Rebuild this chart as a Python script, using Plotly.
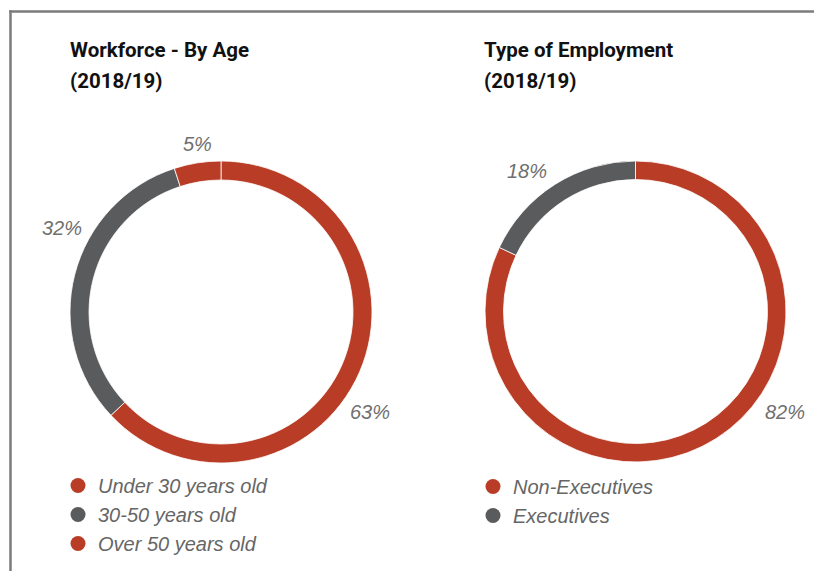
import plotly.graph_objects as go

# ---- data ----
age_labels = ["Under 30 years old", "30-50 years old", "Over 50 years old"]
age_values = [63, 32, 5]
age_colors = ["#b93d26", "#5a5b5d", "#b93d26"]

emp_labels = ["Non-Executives", "Executives"]
emp_values = [82, 18]
emp_colors = ["#b93d26", "#5a5b5d"]

titles = [("Workforce - By Age", "(2018/19)"), ("Type of Employment", "(2018/19)")]

W, H = 814, 571


def px(x, y):
    return x / W, 1 - y / H


fig = go.Figure()

# donuts
fig.add_trace(go.Pie(
    labels=age_labels, values=age_values, hole=0.874, sort=False,
    direction="clockwise", rotation=0, textinfo="none", hoverinfo="label+percent",
    marker=dict(colors=age_colors, line=dict(color="white", width=0.8)),
    domain=dict(x=[70 / W, 372 / W], y=[1 - 463 / H, 1 - 161 / H]),
    showlegend=False,
))
fig.add_trace(go.Pie(
    labels=emp_labels, values=emp_values, hole=0.877, sort=False,
    direction="clockwise", rotation=0, textinfo="none", hoverinfo="label+percent",
    marker=dict(colors=emp_colors, line=dict(color="white", width=0.8)),
    domain=dict(x=[485 / W, 786 / W], y=[1 - 462 / H, 1 - 161 / H]),
    showlegend=False,
))

# legend entries (circle markers)
for lab, col in zip(age_labels, age_colors):
    fig.add_trace(go.Scatter(x=[None], y=[None], mode="markers", name=lab,
                             marker=dict(size=15, color=col), legend="legend"))
for lab, col in zip(emp_labels, emp_colors):
    fig.add_trace(go.Scatter(x=[None], y=[None], mode="markers", name=lab,
                             marker=dict(size=15, color=col), legend="legend2"))

label_font = dict(family="Liberation Sans, Arial, sans-serif", size=20,
                  color="#707070", style="italic")
title_font = dict(family="Roboto, Liberation Sans, sans-serif",
                  size=20.5, color="#111111", weight="bold")

annotations = []
# percentage labels
age_pos = [(370, 411.5), (61.5, 228.5), (197, 143.5)]
emp_pos = [(785, 411.5), (527, 171)]
for v, (x, y) in zip(age_values, age_pos):
    ax, ay = px(x, y)
    annotations.append(dict(text=f"{v}%", x=ax, y=ay, xref="paper", yref="paper",
                            xanchor="center", yanchor="middle", showarrow=False, font=label_font))
for v, (x, y) in zip(emp_values, emp_pos):
    ax, ay = px(x, y)
    annotations.append(dict(text=f"{v}%", x=ax, y=ay, xref="paper", yref="paper",
                            xanchor="center", yanchor="middle", showarrow=False, font=label_font))
# titles
for (l1, l2), x0 in zip(titles, [68, 482]):
    for txt, yc in [(l1, 50), (l2, 81)]:
        ax, ay = px(x0, yc)
        annotations.append(dict(text=txt, x=ax, y=ay, xref="paper", yref="paper",
                                xanchor="left", yanchor="middle", showarrow=False, font=title_font))

legend_font = dict(family="Liberation Sans, Arial, sans-serif", size=20,
                   color="#666666", style="italic")

frame_line = dict(color="#7b7b7b", width=2.5)
fig.update_layout(
    width=W, height=H,
    margin=dict(l=0, r=0, t=0, b=0),
    paper_bgcolor="white", plot_bgcolor="white",
    xaxis=dict(visible=False), yaxis=dict(visible=False),
    annotations=annotations,
    shapes=[
        dict(type="line", xref="paper", yref="paper",
             x0=10.5 / W, x1=10.5 / W, y0=-0.05, y1=1 - 10.25 / H, line=frame_line),
        dict(type="line", xref="paper", yref="paper",
             x0=9.25 / W, x1=1.05, y0=1 - 11.5 / H, y1=1 - 11.5 / H, line=frame_line),
    ],
    legend=dict(x=58 / W, y=1 - 466 / H, xanchor="left", yanchor="top",
                font=legend_font, bgcolor="rgba(0,0,0,0)", itemsizing="trace",
                tracegroupgap=0),
    legend2=dict(x=473 / W, y=1 - 467 / H, xanchor="left", yanchor="top",
                 font=legend_font, bgcolor="rgba(0,0,0,0)", itemsizing="trace",
                 tracegroupgap=0),
)

fig.write_html(
    "out.html", config={"displayModeBar": False},
    post_script=("document.documentElement.style.overflow='hidden';"
                 "document.body.style.margin='0';document.body.style.overflow='hidden';"))
